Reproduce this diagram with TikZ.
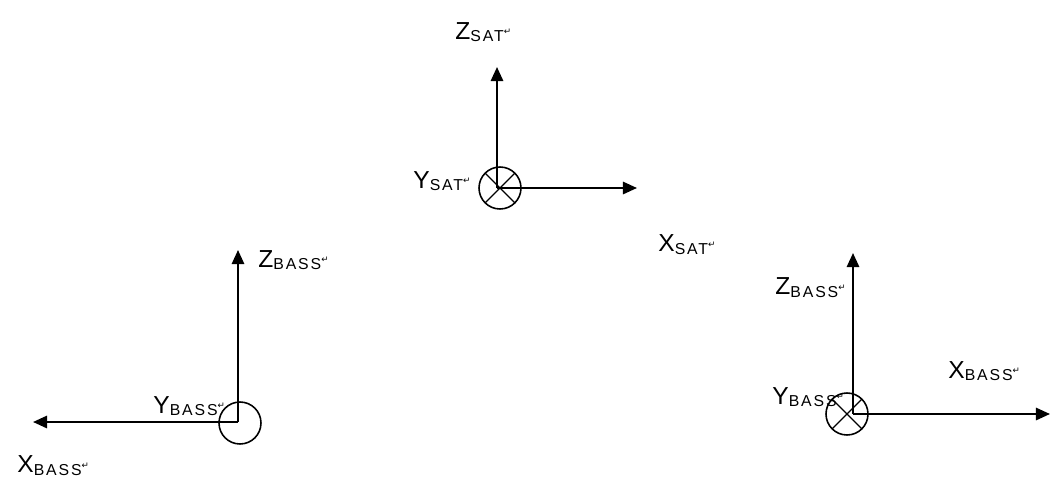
\documentclass[tikz,border=0pt]{standalone}
\usepackage{fontspec}
\setmainfont{Liberation Sans}
\newfontfamily\retfont{DejaVu Sans}
\usetikzlibrary{arrows.meta, positioning}

\newcommand{\axlab}[2]{%
  {\fontsize{14}{14}\selectfont #1}%
  \raisebox{-1.5pt}{\fontsize{9}{9}\selectfont\addfontfeatures{LetterSpace=12}#2}%
  \raisebox{2.5pt}{\retfont\fontsize{5}{5}\selectfont ↵}}

\begin{document}
\begin{tikzpicture}[
    x=0.02cm, y=-0.02cm,
    axis/.style={-{Triangle[length=8pt, width=7pt]}, line width=1.2pt, black},
    origin/.style={
        circle, draw=black, line width=0.9pt, minimum size=0.84cm,
        inner sep=0pt, outer sep=0pt
    },
    crossmark/.style={line width=0.7pt, black},
    lbl/.style={inner sep=0pt, anchor=base west}
]
\useasboundingbox (0,0) rectangle (1052,487);

% ===================================================================
% SAT frame (top)
% ===================================================================
\coordinate (satO) at (497,188);
\coordinate (satZ) at (497,67);
\coordinate (satX) at (637,188);
\node[origin] (satC) at (500,188) {};
\draw[crossmark] (satC.north east) -- (satC.south west)
                 (satC.north west) -- (satC.south east);
\draw[axis] (satO) -- (satZ);
\draw[axis] (satO) -- (satX);

\node[above left=0.56cm and 0.84cm of satZ, lbl] (satZlbl) {\axlab{Z}{SAT}};
\node[left=1.68cm of satO, lbl] (satYlbl) {\axlab{Y}{SAT}};
\node[below right=1.28cm and 0.42cm of satX, lbl] (satXlbl) {\axlab{X}{SAT}};

% ===================================================================
% BASS frame (bottom left)
% ===================================================================
\coordinate (lbO) at (238,422);
\coordinate (lbZ) at (238,250);
\coordinate (lbX) at (33,422);
\node[origin] (lbC) at (240,423) {};
\draw[axis] (lbO) -- (lbZ);
\draw[axis] (lbO) -- (lbX);

\node[below right=0.34cm and 0.4cm of lbZ, lbl] (lbZlbl) {\axlab{Z}{BASS}};
\node[above left=0.18cm and 1.7cm of lbO, lbl] (lbYlbl) {\axlab{Y}{BASS}};
\node[below left=1.02cm and 0.32cm of lbX, lbl] (lbXlbl) {\axlab{X}{BASS}};

% ===================================================================
% BASS frame (bottom right)
% ===================================================================
\coordinate (rbO) at (853,414);
\coordinate (rbZ) at (853,253);
\coordinate (rbX) at (1050,414);
\node[origin] (rbC) at (847,414) {};
\draw[crossmark] (rbC.north east) -- (rbC.south west)
                 (rbC.north west) -- (rbC.south east);
\draw[axis] (rbO) -- (rbZ);
\draw[axis] (rbO) -- (rbX);

\node[below left=0.84cm and 1.56cm of rbZ, lbl] (rbZlbl) {\axlab{Z}{BASS}};
\node[above left=0.2cm and 1.62cm of rbO, lbl] (rbYlbl) {\axlab{Y}{BASS}};
\node[above left=0.72cm and 2.04cm of rbX, lbl] (rbXlbl) {\axlab{X}{BASS}};

\end{tikzpicture}
\end{document}
